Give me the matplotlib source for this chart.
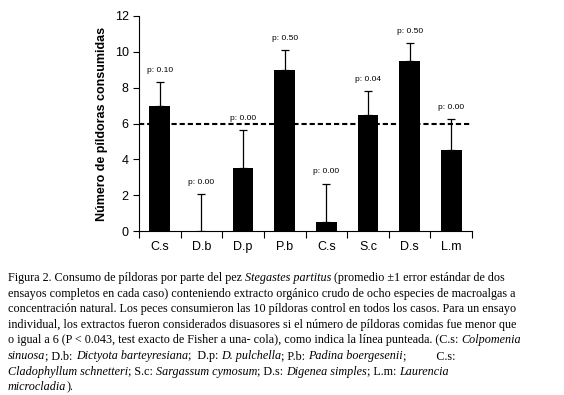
import matplotlib
matplotlib.use("Agg")
import matplotlib.pyplot as plt
import numpy as np

# datos
especies = ["C.s", "D.b", "D.p", "P.b", "C.s", "S.c", "D.s", "L.m"]
promedio = [7.0, 0.0, 3.5, 9.0, 0.5, 6.5, 9.5, 4.5]
error = [1.3, 2.05, 2.15, 1.1, 2.15, 1.3, 1.0, 1.75]
valores_p = ["p: 0.10", "p: 0.00", "p: 0.00", "p: 0.50", "p: 0.00", "p: 0.04", "p: 0.50", "p: 0.00"]
umbral = 6

# leyenda de la figura: (texto, cursiva)
leyenda = [
    [("Figura 2. Consumo de píldoras por parte del pez ", False), ("Stegastes partitus", True),
     (" (promedio ±1 error estándar de dos", False)],
    [("ensayos completos en cada caso) conteniendo extracto orgánico crudo de ocho especies de macroalgas a", False)],
    [("concentración natural. Los peces consumieron las 10 píldoras control en todos los casos. Para un ensayo", False)],
    [("individual, los extractos fueron considerados disuasores si el número de píldoras comidas fue menor que", False)],
    [("o igual a 6 (P < 0.043, test exacto de Fisher a una- cola), como indica la línea punteada. (C.s: ", False),
     ("Colpomenia", True)],
    [("sinuosa", True), ("; D.b: ", False), ("Dictyota barteyresiana", True), (";  D.p: ", False),
     ("D. pulchella", True), ("; P.b: ", False), ("Padina boergesenii", True), (";          C.s:", False)],
    [("Cladophyllum schnetteri", True), ("; S.c: ", False), ("Sargassum cymosum", True), ("; D.s: ", False),
     ("Digenea simples", True), ("; L.m: ", False), ("Laurencia", True)],
    [("microcladia", True), (").", False)],
]

fig = plt.figure(figsize=(5.64, 3.95), dpi=100)
ax = fig.add_axes([139 / 564, 1 - 231 / 395, 333 / 564, 215 / 395])

x = np.arange(len(especies))
ax.bar(x, promedio, width=0.5, color="black")
ax.errorbar(x, promedio, yerr=[np.zeros(len(x)), error], fmt="none", ecolor="black",
            elinewidth=0.9, capsize=2.6, capthick=0.9)
ax.axhline(umbral, color="black", linestyle=(0, (2.5, 1.4)), linewidth=1.5)

for xi, m, e, p in zip(x, promedio, error, valores_p):
    ax.text(xi, m + e + 0.45, p, ha="center", va="bottom", fontsize=6,
            family="Liberation Sans")

ax.set_xlim(-0.5, len(especies) - 0.5)
ax.set_ylim(0, 12)
ax.set_yticks(range(0, 13, 2))
ax.set_xticks(np.arange(-0.5, len(especies), 1.0))
ax.set_xticklabels([])
ax.set_xticks(x, minor=True)
ax.set_xticklabels(especies, minor=True)
ax.tick_params(axis="x", which="minor", length=0, pad=7, labelsize=9)
ax.tick_params(axis="x", which="major", length=5, direction="out", width=0.8)
ax.tick_params(axis="y", length=4, width=0.8, labelsize=9)
for lab in ax.get_xticklabels(minor=True) + ax.get_yticklabels():
    lab.set_family("Liberation Sans")
ax.spines["top"].set_visible(False)
ax.spines["right"].set_visible(False)
ax.set_ylabel("Número de píldoras consumidas", fontsize=9, fontweight="bold",
              family="Liberation Sans", labelpad=5)

# leyenda con tramos en cursiva
fig.canvas.draw()
renderer = fig.canvas.get_renderer()
y0 = 1 - 278 / 395
paso = 15.6 / 395
for i, linea in enumerate(leyenda):
    xpos = 8 / 564
    ypos = y0 - i * paso
    for texto, cursiva in linea:
        t = fig.text(xpos, ypos, texto, fontsize=8.75, family="Liberation Serif",
                     style="italic" if cursiva else "normal", va="center", ha="left")
        bb = t.get_window_extent(renderer=renderer)
        xpos += bb.width / fig.bbox.width

fig.savefig("out.png", dpi=100)
